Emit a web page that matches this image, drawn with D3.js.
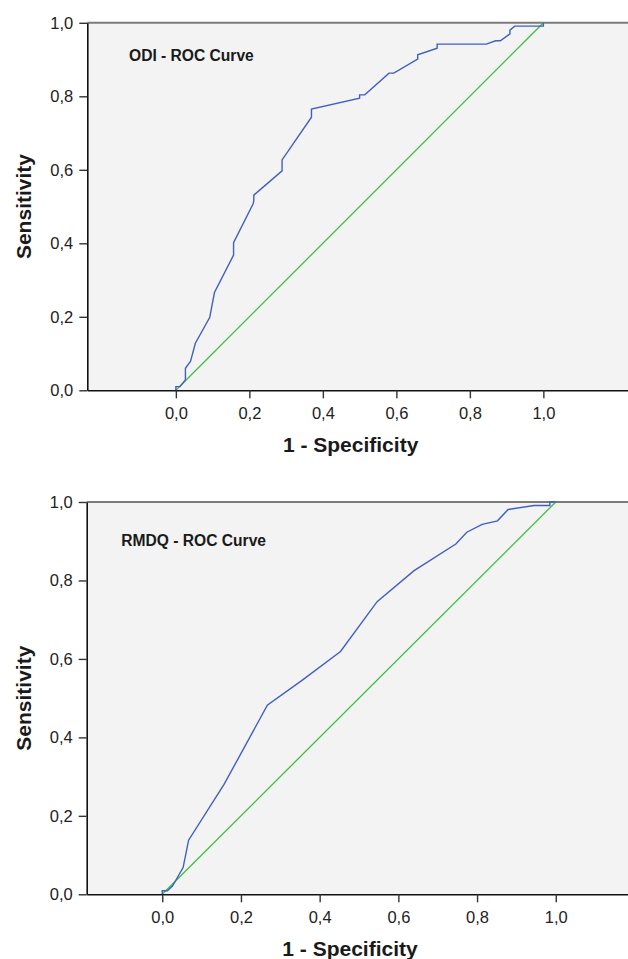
<!DOCTYPE html>
<html>
<head>
<meta charset="utf-8">
<script src="https://cdn.jsdelivr.net/npm/d3@7"></script>
<style>
  body { margin: 0; background: #fff; }
  svg { display: block; font-family: "Liberation Sans", Arial, sans-serif; }
  .tick text { font-size: 16.5px; fill: #222; }
  .axis-label { font-size: 21px; font-weight: bold; fill: #1a1a1a; }
  .chart-title { font-size: 15.6px; font-weight: bold; fill: #1a1a1a; }
</style>
</head>
<body>
<div id="rocDiv"></div>
<script>
// ODI curve
const odiFpr = [0, 0, 0.011, 0.026, 0.026, 0.04, 0.053, 0.092, 0.105, 0.157, 0.157, 0.21, 0.212, 0.212,
                0.289, 0.289, 0.369, 0.369, 0.5, 0.5, 0.514, 0.58, 0.593, 0.658, 0.658, 0.711, 0.711,
                0.845, 0.87, 0.883, 0.909, 0.909, 0.922, 1.0, 1.0];
const odiTpr = [0, 0.01, 0.01, 0.028, 0.06, 0.079, 0.128, 0.198, 0.266, 0.368, 0.402, 0.507, 0.515, 0.531,
                0.597, 0.627, 0.743, 0.765, 0.795, 0.804, 0.804, 0.863, 0.863, 0.901, 0.913, 0.931, 0.942,
                0.942, 0.951, 0.951, 0.97, 0.98, 0.991, 0.991, 1.0];

// RMDQ curve
const rmdqFpr = [0, 0, 0.013, 0.026, 0.053, 0.067, 0.157, 0.267, 0.356, 0.453, 0.546, 0.64, 0.746,
                 0.774, 0.813, 0.852, 0.879, 0.945, 0.985, 0.985, 1.0];
const rmdqTpr = [0, 0.009, 0.009, 0.021, 0.068, 0.138, 0.28, 0.482, 0.546, 0.619, 0.746, 0.825, 0.893,
                 0.923, 0.943, 0.952, 0.981, 0.991, 0.991, 1.0, 1.0];

const refLine = [0, 1];
const tickValues = [0, 0.2, 0.4, 0.6, 0.8, 1.0];
const titles = ['ODI - ROC Curve', 'RMDQ - ROC Curve'];

class RocPlot {
    constructor(svg, opts) {
        this.svg = svg;
        this.o = opts;
        this.drawPlot();
    }

    drawPlot() {
        const o = this.o;
        const g = this.svg.append('g').classed('roc-group', true);

        const x = d3.scaleLinear().domain(o.xDomain).range([o.left, o.left + (o.xDomain[1] - o.xDomain[0]) * o.unitX]);
        const y = d3.scaleLinear().domain([0, 1]).range([o.bottom, o.top]);
        const right = x(o.xDomain[1]);
        const comma = v => d3.format('.1f')(v).replace('.', ',');

        // background
        g.append('rect')
            .attr('x', o.left).attr('y', o.top)
            .attr('width', right - o.left).attr('height', o.bottom - o.top)
            .attr('fill', '#f3f3f3');

        // top frame line
        g.append('line')
            .attr('x1', o.left).attr('x2', right)
            .attr('y1', o.top).attr('y2', o.top)
            .attr('stroke', '#7b7b7b').attr('stroke-width', 2);

        // reference diagonal
        g.append('path')
            .datum(refLine)
            .attr('d', d3.line().x(d => x(d)).y(d => y(d)))
            .attr('fill', 'none').attr('stroke', '#3cbf3c').attr('stroke-width', 1.3);

        // ROC curve
        g.append('path')
            .datum(d3.zip(o.fpr, o.tpr))
            .attr('d', d3.line().x(d => x(d[0])).y(d => y(d[1])))
            .attr('fill', 'none').attr('stroke', '#4060bc').attr('stroke-width', 1.4);

        // axes
        const yAxis = g.append('g')
            .attr('transform', 'translate(' + o.left + ',0)')
            .call(d3.axisLeft(y).tickValues(tickValues).tickFormat(comma).tickSize(8).tickSizeOuter(0).tickPadding(6));
        const xAxis = g.append('g')
            .attr('transform', 'translate(0,' + o.bottom + ')')
            .call(d3.axisBottom(x).tickValues(tickValues).tickFormat(comma).tickSize(8).tickSizeOuter(0).tickPadding(9));
        [xAxis, yAxis].forEach(a => {
            a.select('.domain').attr('stroke', '#111').attr('stroke-width', 1.6);
            a.selectAll('.tick line').attr('stroke', '#333').attr('stroke-width', 1.4);
            a.selectAll('.tick text').attr('font-family', null).attr('font-size', null);
        });

        // labels
        g.append('text')
            .text(o.title)
            .classed('chart-title', true)
            .attr('x', o.titleX).attr('y', o.titleY);
        g.append('text')
            .text('1 - Specificity')
            .classed('axis-label', true)
            .attr('text-anchor', 'middle')
            .attr('x', x(0.5) - 9).attr('y', o.bottom + 62);
        g.append('text')
            .text('Sensitivity')
            .classed('axis-label', true)
            .attr('text-anchor', 'middle')
            .attr('transform', 'translate(31,' + ((o.top + o.bottom) / 2) + ') rotate(-90)');
    }
}

const svg = d3.select('#rocDiv')
    .append('svg')
    .attr('width', 628)
    .attr('height', 959);

new RocPlot(svg, {
    fpr: odiFpr, tpr: odiTpr, title: titles[0],
    xDomain: [-0.241, 1.25], unitX: 367.5,
    left: 87.3, top: 22.8, bottom: 390.3,
    titleX: 129, titleY: 60.5
});

new RocPlot(svg, {
    fpr: rmdqFpr, tpr: rmdqTpr, title: titles[1],
    xDomain: [-0.192, 1.2], unitX: 393.5,
    left: 86.7, top: 502, bottom: 894.3,
    titleX: 121.3, titleY: 546
});
</script>
</body>
</html>
